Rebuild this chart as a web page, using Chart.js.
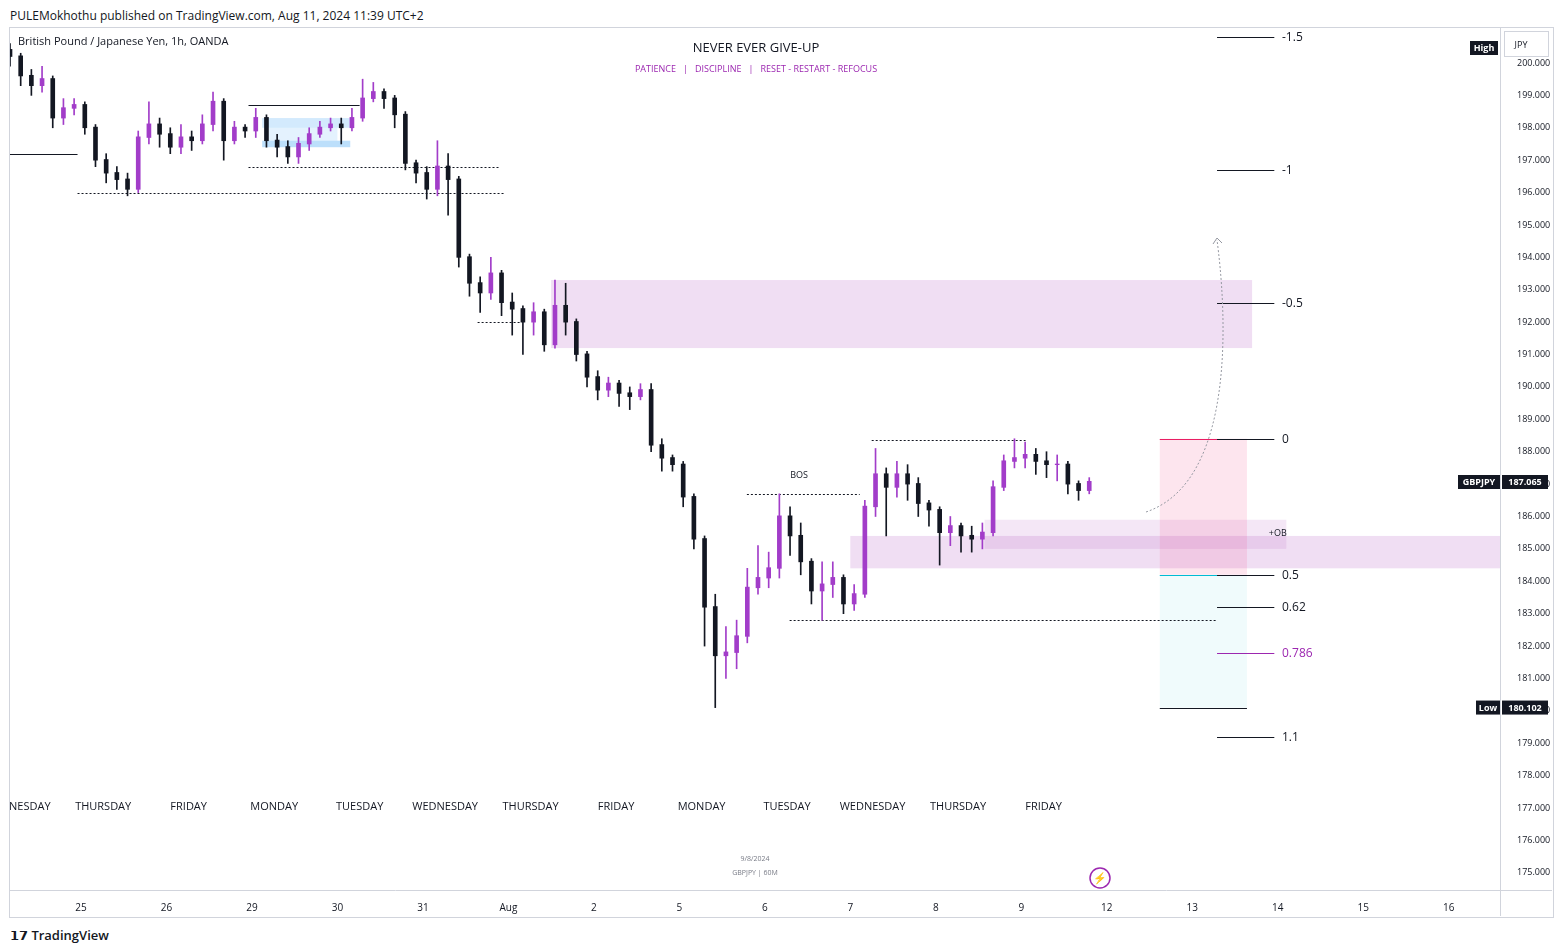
<!DOCTYPE html>
<html lang="en">
<head>
<meta charset="UTF-8">
<title>GBPJPY 1h</title>
<script src="https://cdn.jsdelivr.net/npm/chart.js"></script>
<style>
  body { margin: 0; background: #ffffff; font-family: "Open Sans", Arial, sans-serif; width: 1562px; height: 952px; position: relative; overflow: hidden; }
  #top { position: absolute; left: 10px; top: 7px; font-size: 12px; color: #131722; }
  #frame { position: absolute; left: 9px; top: 27px; width: 1543px; height: 889px; border: 1px solid #d1d4dc; }
  #wrap { position: absolute; left: 0; top: 0; }
  #foot { position: absolute; left: 10px; top: 926px; font-size: 13px; color: #131722; font-weight: 600; }
</style>
</head>
<body>
<div id="top">PULEMokhothu published on TradingView.com, Aug 11, 2024 11:39 UTC+2</div>
<div id="frame"></div>
<div id="wrap"><canvas id="c" width="1552" height="916"></canvas></div>
<div id="foot">𝟭𝟳 TradingView</div>
<script>
// candles: x in trading-day index (0 = Jul 25), 3h steps
const startT = -0.83, stepT = 0.125;
const opens0 = 200.4;
const closes = [200.2,199.6,199.3,199.5,198.3,198.6,198.7,198.0,197.0,196.6,196.4,196.1,197.7,198.1,197.8,197.4,197.7,197.6,198.1,198.8,
197.6,198.0,197.9,198.3,197.6,197.4,197.1,197.5,197.8,198.0,198.1,198.0,198.3,198.9,199.1,198.9,198.4,196.9,196.6,196.1,
196.8,196.4,194.0,193.2,192.9,193.5,192.6,192.4,192.0,192.3,191.3,192.5,192.0,191.0,190.3,189.9,190.1,189.8,189.7,189.9,
188.2,187.8,187.6,186.6,185.3,183.2,181.7,181.8,182.3,183.8,184.1,184.4,186.0,185.4,184.6,183.7,183.9,184.1,183.3,183.6,
186.3,187.3,186.9,187.3,187.0,186.4,186.2,185.5,185.7,185.4,185.3,185.5,186.9,187.7,187.8,187.9,187.7,187.6,187.6,187.0,186.8,187.065];
const highs = [200.6,200.3,199.8,199.9,199.6,198.9,198.9,198.8,198.1,197.2,196.8,196.6,197.9,198.8,198.3,198.0,198.1,197.9,198.4,199.1,
198.9,198.2,198.1,198.6,198.4,197.8,197.6,197.7,198.0,198.2,198.3,198.3,198.6,199.5,199.4,199.2,199.0,198.5,197.0,196.8,
197.6,197.2,196.5,194.1,193.4,194.0,193.6,192.9,192.5,192.6,192.4,193.3,193.2,192.1,191.1,190.5,190.3,190.2,190.0,190.1,
190.1,188.4,187.9,187.7,186.7,185.4,183.6,182.6,182.8,184.4,185.1,184.9,186.7,186.3,185.8,184.7,184.6,184.6,184.2,183.9,
186.5,188.1,187.5,187.7,187.6,187.2,186.5,186.3,186.0,185.8,185.7,185.8,187.1,187.9,188.4,188.3,188.1,188.0,187.9,187.7,187.1,187.2];
const lows = [199.9,199.3,199.0,199.1,198.0,198.1,198.4,197.8,196.8,196.3,196.1,195.9,196.0,197.5,197.4,197.2,197.2,197.3,197.5,197.9,
197.0,197.5,197.7,197.7,197.4,197.1,196.9,196.9,197.3,197.7,197.9,197.5,197.9,198.2,198.8,198.6,198.0,196.7,196.3,195.8,
195.9,195.3,193.7,192.8,192.3,192.7,192.2,191.6,191.0,191.6,191.1,191.2,191.6,190.8,190.0,189.6,189.7,189.4,189.3,189.6,
188.0,187.4,187.4,186.3,185.0,182.0,180.1,181.0,181.3,182.1,183.6,183.8,184.1,184.8,184.2,183.3,182.8,183.5,183.0,183.1,
183.5,186.0,185.4,186.6,186.5,186.0,185.7,184.5,185.1,184.9,184.9,185.0,185.4,186.8,187.5,187.5,187.3,187.2,187.1,186.7,186.5,186.7];

const dayLabels = ["25","26","29","30","31","Aug","2","5","6","7","8","9","12","13","14","15","16"];
const weekdays = ["WEDNESDAY","THURSDAY","FRIDAY","MONDAY","TUESDAY","WEDNESDAY","THURSDAY","FRIDAY","MONDAY","TUESDAY","WEDNESDAY","THURSDAY","FRIDAY"];

const fibLevels = [200.8,196.7,192.6,188.4,184.2,183.2,181.8,179.2];
const fibLabels = ["-1.5","-1","-0.5","0","0.5","0.62","0.786","1.1"];

const opens = closes.map((c, i) => i === 0 ? opens0 : closes[i - 1]);
const xs = closes.map((c, i) => startT + i * stepT);
const UP = '#a23dc9', DN = '#131722';
const cols = closes.map((c, i) => c >= opens[i] ? UP : DN);

const overlay = {
  id: 'overlay',
  beforeDatasetsDraw(chart) {
    const { ctx, scales: { x, y }, chartArea: a } = chart;
    ctx.save();
    ctx.beginPath(); ctx.rect(a.left, a.top, a.right - a.left, a.bottom - a.top); ctx.clip();
    const box = (t1, t2, p1, p2, fill) => {
      ctx.fillStyle = fill;
      ctx.fillRect(x.getPixelForValue(t1), y.getPixelForValue(p1), x.getPixelForValue(t2) - x.getPixelForValue(t1), y.getPixelForValue(p2) - y.getPixelForValue(p1));
    };
    box(5.5, 13.7, 193.3, 191.2, 'rgba(186,104,200,0.22)');
    box(9.0, 16.6, 185.4, 184.4, 'rgba(186,104,200,0.22)');
    box(10.57, 14.1, 185.9, 185.0, 'rgba(186,104,200,0.16)');
    box(12.62, 13.64, 188.4, 184.2, 'rgba(242,54,120,0.13)');
    box(12.62, 13.64, 184.2, 180.1, 'rgba(0,188,212,0.06)');
    box(2.12, 3.15, 198.3, 198.0, 'rgba(33,150,243,0.2)');
    box(2.12, 3.15, 197.6, 197.4, 'rgba(33,150,243,0.3)');
    box(2.2, 3.0, 198.0, 197.6, 'rgba(33,150,243,0.12)');
    ctx.font = '11px "Open Sans", sans-serif'; ctx.fillStyle = '#131722'; ctx.textAlign = 'center';
    weekdays.forEach((w, i) => ctx.fillText(w, x.getPixelForValue(i - 1 + 0.26), 810));
    const hl = (t1, t2, p, col, dash, w) => {
      ctx.strokeStyle = col; ctx.lineWidth = w || 1; ctx.setLineDash(dash || []);
      const yy = Math.round(y.getPixelForValue(p)) + 0.5;
      ctx.beginPath(); ctx.moveTo(x.getPixelForValue(t1), yy); ctx.lineTo(x.getPixelForValue(t2), yy); ctx.stroke();
    };
    hl(-0.83, -0.04, 197.2, '#131722');
    hl(-0.04, 4.96, 196.0, '#131722', [2, 2]);
    hl(1.96, 4.9, 196.8, '#131722', [2, 2]);
    hl(1.96, 3.26, 198.7, '#131722');
    hl(4.64, 5.14, 192.0, '#131722', [2, 2]);
    hl(7.79, 9.11, 186.7, '#131722', [2, 2]);
    hl(9.25, 11.05, 188.35, '#131722', [2, 2]);
    hl(8.29, 13.29, 182.8, '#131722', [2, 2]);
    hl(12.62, 13.64, 180.1, '#131722');
    hl(12.62, 13.64, 188.4, '#e91e63');
    hl(12.62, 13.64, 184.2, '#00bcd4');
    ctx.setLineDash([]);
    ctx.font = '9px "Open Sans", sans-serif'; ctx.fillStyle = '#131722';
    ctx.fillText('BOS', x.getPixelForValue(8.4), y.getPixelForValue(187.0) - 6);
    ctx.fillText('+OB', x.getPixelForValue(14.0), y.getPixelForValue(185.4) + 0);
    ctx.textAlign = 'left'; ctx.font = '12px "Open Sans", sans-serif';
    fibLevels.forEach((p, i) => {
      const col = fibLabels[i] === '0.786' ? '#9c27b0' : '#131722';
      hl(13.29, 13.96, p, col);
      ctx.fillStyle = col; ctx.fillText(fibLabels[i], 1282, y.getPixelForValue(p) + 4);
    });
    ctx.strokeStyle = '#9598a1'; ctx.setLineDash([2, 2]);
    ctx.beginPath(); ctx.moveTo(1146, 512);
    ctx.bezierCurveTo(1240, 480, 1225, 300, 1217, 240); ctx.stroke();
    ctx.setLineDash([]);
    ctx.beginPath(); ctx.moveTo(1213, 244); ctx.lineTo(1217, 238); ctx.lineTo(1222, 243); ctx.stroke();
    ctx.textAlign = 'center'; ctx.fillStyle = '#131722'; ctx.font = '13px "Open Sans", sans-serif';
    ctx.fillText('NEVER EVER GIVE-UP', 756, 52);
    ctx.fillStyle = '#9c27b0'; ctx.font = '9px "Open Sans", sans-serif';
    ctx.fillText('PATIENCE   |   DISCIPLINE   |   RESET - RESTART - REFOCUS', 756, 72);
    ctx.fillStyle = '#787b86'; ctx.font = '7px "Open Sans", sans-serif';
    ctx.fillText('9/8/2024', 755, 861); ctx.fillText('GBPJPY | 60M', 755, 875);
    ctx.textAlign = 'left'; ctx.fillStyle = '#131722'; ctx.font = '11px "Open Sans", sans-serif';
    ctx.fillText('British Pound / Japanese Yen, 1h, OANDA', 18, 45);
    ctx.strokeStyle = '#9c27b0'; ctx.lineWidth = 1.5;
    ctx.beginPath(); ctx.arc(1100, 878, 10, 0, Math.PI * 2); ctx.stroke();
    ctx.fillStyle = '#9c27b0'; ctx.font = '11px sans-serif'; ctx.textAlign = 'center'; ctx.fillText('⚡', 1100, 882);
    ctx.restore();
  },
  afterDraw(chart) {
    const { ctx, scales: { y } } = chart;
    ctx.save();
    const badge = (label, value, p, lw) => {
      const yy = y.getPixelForValue(p);
      ctx.fillStyle = '#131722';
      ctx.fillRect(1502, yy - 7, 46, 14);
      ctx.fillRect(1502 - lw - 2, yy - 7, lw, 14);
      ctx.fillStyle = '#fff'; ctx.font = 'bold 9px "Open Sans", sans-serif'; ctx.textAlign = 'center';
      if (value) ctx.fillText(value, 1525, yy + 3);
      ctx.fillText(label, 1502 - 2 - lw / 2, yy + 3);
    };
    badge('GBPJPY', '187.065', 187.065, 42);
    badge('Low', '180.102', 180.102, 24);
    ctx.fillStyle = '#131722'; ctx.fillRect(1470, 41, 28, 14);
    ctx.fillStyle = '#fff'; ctx.textAlign = 'center'; ctx.fillText('High', 1484, 51);
    ctx.strokeStyle = '#d1d4dc'; ctx.strokeRect(1504.5, 31.5, 44, 25);
    ctx.fillStyle = '#131722'; ctx.font = '9px "Open Sans", sans-serif'; ctx.fillText('JPY', 1521, 48);
    ctx.strokeStyle = '#d1d4dc'; ctx.beginPath(); ctx.moveTo(1500.5, 28); ctx.lineTo(1500.5, 916); ctx.moveTo(10, 890.5); ctx.lineTo(1552, 890.5); ctx.stroke();
    ctx.restore();
  }
};

new Chart(document.getElementById('c'), {
  type: 'bar',
  data: {
    datasets: [
      { data: xs.map((t, i) => ({ x: t, y: [lows[i], highs[i]] })), backgroundColor: cols, barThickness: 1, grouped: false },
      { data: xs.map((t, i) => ({ x: t, y: [Math.min(opens[i], closes[i]), Math.max(opens[i], closes[i]) + 0.02] })), backgroundColor: cols, barThickness: 4, grouped: false }
    ]
  },
  options: {
    responsive: false, animation: false, devicePixelRatio: 1,
    layout: { padding: { left: 10, top: 28, right: 0, bottom: 0 } },
    plugins: { legend: { display: false }, tooltip: { enabled: false } },
    scales: {
      x: {
        type: 'linear', min: -0.83, max: 16.6, offset: false,
        grid: { display: false }, border: { display: false },
        afterBuildTicks: s => { s.ticks = dayLabels.map((l, i) => ({ value: i })); },
        afterFit: s => { s.height = 26; },
        ticks: { color: '#131722', font: { size: 10, family: 'Open Sans' }, maxRotation: 0, autoSkip: false, padding: 4, callback: v => dayLabels[v] }
      },
      y: {
        position: 'right', min: 174.47, max: 201.08,
        grid: { display: false }, border: { display: false },
        afterBuildTicks: s => { const t = []; for (let v = 175; v <= 200; v++) t.push({ value: v }); s.ticks = t; },
        afterFit: s => { s.width = 52; },
        ticks: { color: '#131722', font: { size: 9, family: 'Open Sans' }, padding: 9, callback: v => v.toFixed(3) }
      }
    }
  },
  plugins: [overlay]
});
</script>
</body>
</html>
